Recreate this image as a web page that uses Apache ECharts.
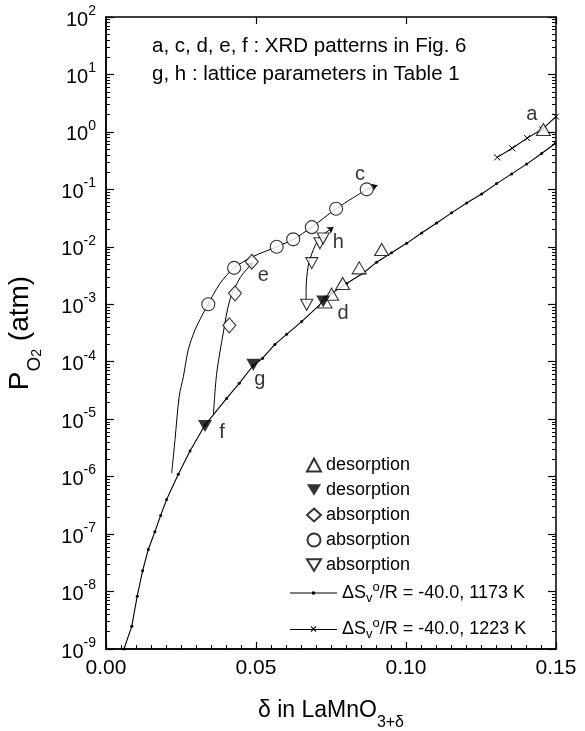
<!DOCTYPE html>
<html><head><meta charset="utf-8">
<script src="https://cdn.jsdelivr.net/npm/echarts@6/dist/echarts.min.js"></script>
<style>html,body{margin:0;padding:0;background:#fff}.c{width:585px;height:731px;position:absolute;left:0;top:0}#frame{z-index:2;pointer-events:none}#c{z-index:1}</style>
</head><body><div class="c" id="c"></div><div class="c" id="frame"></div>
<script>
// ---- data (delta, P_O2 in atm) ----
const curve1173 = [[0.0060,1e-9],[0.0086,2.5e-9],[0.0104,8.3e-9],[0.0122,2.3e-8],[0.0141,5.4e-8],[0.0163,1.1e-7],[0.0182,2.1e-7],[0.0202,4.0e-7],[0.0241,1.1e-6],[0.0280,2.8e-6],[0.0330,7.9e-6],[0.0402,2.3e-5],[0.0444,4.2e-5],[0.0490,8.5e-5],[0.0522,1.15e-4],[0.0563,2.0e-4],[0.0602,3.0e-4],[0.0652,5.0e-4],[0.0723,1.1e-3],[0.0752,1.55e-3],[0.0802,2.3e-3],[0.0858,3.5e-3],[0.0902,5.4e-3],[0.0952,7.9e-3],[0.1002,1.15e-2],[0.1052,1.74e-2],[0.1102,2.6e-2],[0.1152,3.9e-2],[0.1202,5.8e-2],[0.1252,8.3e-2],[0.1302,0.126],[0.1352,0.186],[0.1402,0.275],[0.1452,0.42],[0.1497,0.63]];
const curve1223 = [[0.1304,0.36],[0.1354,0.52],[0.1404,0.78],[0.1454,1.11],[0.1500,1.85]];
const desorbUp = [[0.0730,1.1e-3],[0.0752,1.5e-3],[0.0789,2.3e-3],[0.0844,4.3e-3],[0.0919,9.0e-3],[0.1458,1.1]];
const desorbDown = [[0.0330,7.6e-6],[0.0491,8.9e-5],[0.0724,1.12e-3]];
const absDiamond = [[0.0411,4.3e-4],[0.0430,1.55e-3],[0.0486,5.5e-3]];
const absDiamondCurve = [[0.0358,1.2e-5],[0.0369,6.3e-5],[0.0391,3.2e-4],[0.0413,1.2e-3],[0.0447,2.9e-3],[0.0470,4.1e-3]];
const absDiamondArrow = [[0.0470,4.1e-3],[0.0490,5.4e-3]];
const absCircle = [[0.0341,1.0e-3],[0.0427,4.3e-3],[0.0569,1.0e-2],[0.0624,1.35e-2],[0.0686,2.2e-2],[0.0767,4.6e-2],[0.0869,0.10]];
const absCircleCurve = [[0.0219,1.15e-6],[0.0230,4.4e-6],[0.0244,2.5e-5],[0.0258,5.5e-5],[0.0274,1.6e-4],[0.0297,3.6e-4],[0.0336,9.1e-4],[0.0380,2.3e-3],[0.0427,4.3e-3],[0.0491,6.8e-3],[0.0569,1.0e-2],[0.0624,1.35e-2],[0.0686,2.2e-2],[0.0767,4.6e-2],[0.0869,0.10]];
const absCircleArrow = [[0.0869,0.10],[0.0905,0.118]];
const absTri = [[0.0669,9.8e-4],[0.0686,5.2e-3],[0.0713,1.15e-2],[0.0724,1.4e-2]];
const absTriCurve = [[0.0667,1.0e-3],[0.0667,1.8e-3],[0.0674,4.6e-3],[0.0691,8.9e-3],[0.0713,1.5e-2]];
const absTriArrow = [[0.0713,1.5e-2],[0.0758,2.2e-2]];
const pointLabels = [['a',0.1419,2.0],['c',0.0847,0.18],['h',0.0774,0.0118],['e',0.0524,3.2e-3],['d',0.0790,7.0e-4],['g',0.0513,4.9e-5],['f',0.0387,5.9e-6]];
const yMinorExp = [];   // exponents of the minor log ticks 2..9 x 10^e
for (let e = -9; e <= 1; e++) for (let k = 2; k <= 9; k++) yMinorExp.push(e + Math.log10(k));
const legendText = {
  des_up: 'desorption', des_down: 'desorption', abs_dia: 'absorption', abs_cir: 'absorption', abs_tri: 'absorption',
  l1173: '{t|ΔS}{sub|v}{sup|o}{t|/R = -40.0, 1173 K}', l1223: '{t|ΔS}{sub|v}{sup|o}{t|/R = -40.0, 1223 K}'
};

const FONT = '"Liberation Sans", Arial, sans-serif';
const mkGrid = () => ({left: 106, right: 29, top: 17, bottom: 82, containLabel: false, outerBoundsMode: 'none', show: false});
const yBase = {type: 'log', logBase: 10, min: 1e-9, max: 100, interval: 1};
const xBase = {type: 'value', min: 0, max: 0.15, interval: 0.05};
const axLine = () => ({show: true, onZero: false, lineStyle: {color: '#000', width: 1.5}});

// ---- main layer: data, labels, legend ----
const chart = echarts.init(document.getElementById('c'));
const openStyle = {color: '#fff', borderColor: '#000', borderWidth: 1.1};
const downTri = 'path://M0,0L12,0L6,10Z';
const cross = 'path://M0,0L10,10M10,0L0,10';
const iconDot = 'path://M0,6.5L47,6.5L47,7.5L0,7.5Z M22,5.5L25,5.5L25,8.5L22,8.5Z';
const iconCross = 'path://M0,6.5L47,6.5L47,7.5L0,7.5Z M20.6,4.3L21.3,3.6L26.4,8.7L25.7,9.4Z M25.7,3.6L26.4,4.3L21.3,9.4L20.6,8.7Z';
const curveLine = (data) => ({type: 'line', data, symbol: 'none', smooth: 0.3, lineStyle: {color: '#000', width: 1}, silent: true, z: 2});
const arrow = (data) => ({type: 'lines', coordinateSystem: 'cartesian2d', symbol: ['none', 'arrow'], symbolSize: 6,
  lineStyle: {color: '#000', width: 1, opacity: 1}, data: [{coords: data}], z: 3, silent: true});
const supLabel = (v) => '{b|10}{s|' + Math.round(Math.log10(v)) + '}';

chart.setOption({
  animation: false, backgroundColor: 'transparent',
  textStyle: {fontFamily: FONT, color: '#000'},
  grid: mkGrid(),
  xAxis: [
    Object.assign({}, xBase, {position: 'bottom',
      axisLine: axLine(), axisTick: {show: false},
      axisLabel: {formatter: v => v.toFixed(2), fontSize: 21, color: '#000', margin: 9, fontFamily: FONT},
      splitLine: {show: false},
      name: '{m|δ in LaMnO}{sub|3+δ}', nameLocation: 'middle', nameGap: 50,
      nameTextStyle: {fontFamily: FONT, rich: {m: {fontSize: 23, lineHeight: 32, verticalAlign: 'top', fontFamily: FONT}, sub: {fontSize: 16, lineHeight: 16, verticalAlign: 'bottom', fontFamily: FONT}}}
    })
  ],
  yAxis: [
    Object.assign({}, yBase, {position: 'left',
      axisLine: axLine(), axisTick: {show: false},
      axisLabel: {formatter: supLabel, margin: 10, fontFamily: FONT, color: '#000',
        rich: {b: {fontSize: 20, lineHeight: 26, verticalAlign: 'bottom', fontFamily: FONT}, s: {fontSize: 14, lineHeight: 14, verticalAlign: 'top', fontFamily: FONT}}},
      splitLine: {show: false},
      name: '{m|P}{sub|O}{sub2|2}{m| (atm)}', nameLocation: 'middle', nameGap: 62, nameRotate: 90,
      nameTextStyle: {fontFamily: FONT, rich: {
        m: {fontSize: 28, lineHeight: 38, verticalAlign: 'top', fontFamily: FONT},
        sub: {fontSize: 19, lineHeight: 18, verticalAlign: 'bottom', fontFamily: FONT},
        sub2: {fontSize: 14, lineHeight: 6, verticalAlign: 'bottom', fontFamily: FONT}}}
    })
  ],
  legend: [
    {data: ['des_up', 'des_down', 'abs_dia', 'abs_cir', 'abs_tri'], orient: 'vertical', left: 301, top: 451,
      itemWidth: 14, itemHeight: 13, itemGap: 7, itemTextGap: 23, formatter: n => legendText[n],
      textStyle: {fontSize: 18, color: '#000', fontFamily: FONT}},
    {data: [{name: 'l1173', icon: iconDot, itemStyle: {borderWidth: 0}}, {name: 'l1223', icon: iconCross, itemStyle: {borderWidth: 0}}],
      orient: 'vertical', left: 285, top: 576,
      itemWidth: 47, itemHeight: 14, itemGap: 12, itemTextGap: 6, formatter: n => legendText[n],
      textStyle: {fontSize: 18, color: '#000', fontFamily: FONT, rich: {
        t: {fontSize: 18, lineHeight: 24, verticalAlign: 'middle', fontFamily: FONT},
        sub: {fontSize: 13, lineHeight: 10, verticalAlign: 'bottom', fontFamily: FONT},
        sup: {fontSize: 13, lineHeight: 10, verticalAlign: 'top', fontFamily: FONT}}}}
  ],
  graphic: [
    {type: 'text', left: 152, top: 36, style: {text: 'a, c, d, e, f : XRD patterns in Fig. 6', font: '20.5px ' + FONT, fill: '#000'}},
    {type: 'text', left: 152, top: 64, style: {text: 'g, h : lattice parameters in Table 1', font: '20.5px ' + FONT, fill: '#000'}}
  ],
  series: [
    curveLine(absCircleCurve),
    curveLine(absDiamondCurve),
    curveLine(absTriCurve),
    arrow(absCircleArrow), arrow(absDiamondArrow), arrow(absTriArrow),
    {name: 'l1173', type: 'line', data: curve1173, symbol: 'circle', symbolSize: 3, showAllSymbol: true,
      itemStyle: {color: '#000'}, lineStyle: {color: '#000', width: 1.1}, z: 2},
    {name: 'l1223', type: 'line', data: curve1223, symbol: cross, symbolSize: 6, showAllSymbol: true,
      itemStyle: {color: '#000', borderColor: '#000', borderWidth: 1}, lineStyle: {color: '#000', width: 1.1}, z: 2},
    {name: 'des_up', type: 'scatter', data: desorbUp, symbol: 'triangle', symbolSize: [14, 12], itemStyle: openStyle, z: 4},
    {name: 'des_down', type: 'scatter', data: desorbDown, symbol: downTri, symbolSize: [14, 12], itemStyle: {color: '#000'}, z: 4},
    {name: 'abs_dia', type: 'scatter', data: absDiamond, symbol: 'diamond', symbolSize: [13, 15], itemStyle: openStyle, z: 4},
    {name: 'abs_cir', type: 'scatter', data: absCircle, symbol: 'circle', symbolSize: 13, itemStyle: openStyle, z: 4},
    {name: 'abs_tri', type: 'scatter', data: absTri, symbol: downTri, symbolSize: [12, 11], itemStyle: openStyle, z: 4},
    {type: 'scatter', data: pointLabels.map(p => ({name: p[0], value: [p[1], p[2]]})), symbolSize: 0, silent: true, z: 5,
      label: {show: true, position: 'inside', formatter: p => p.name, fontSize: 20, color: '#000', fontFamily: FONT}}
  ]
});

// ---- top layer (transparent): frame with major and minor ticks ----
const frameX = (pos) => Object.assign({}, xBase, {position: pos, axisLine: axLine(),
  axisTick: {show: true, inside: true, length: 7, lineStyle: {color: '#000', width: 1.2}},
  minorTick: {show: true, splitNumber: 10, length: 4, lineStyle: {color: '#000', width: 1}},
  axisLabel: {show: false}, splitLine: {show: false}});
const frameY = (pos) => Object.assign({}, yBase, {position: pos, axisLine: axLine(),
  axisTick: {show: true, inside: true, length: 8, lineStyle: {color: '#000', width: 1.2}},
  axisLabel: {show: false}, splitLine: {show: false}});
const minorY = (pos) => ({type: 'value', min: -9, max: 2, position: pos, axisLine: {show: false, onZero: false},
  axisTick: {show: true, inside: true, length: 4, customValues: yMinorExp, lineStyle: {color: '#000', width: 1}},
  axisLabel: {show: false}, splitLine: {show: false}});
echarts.init(document.getElementById('frame')).setOption({
  animation: false, backgroundColor: 'transparent', grid: mkGrid(),
  xAxis: [frameX('bottom'), frameX('top')],
  yAxis: [frameY('left'), frameY('right'), minorY('left'), minorY('right')],
  series: [{type: 'line', data: curve1173, showSymbol: false, lineStyle: {opacity: 0}, silent: true}]
});
</script></body></html>
